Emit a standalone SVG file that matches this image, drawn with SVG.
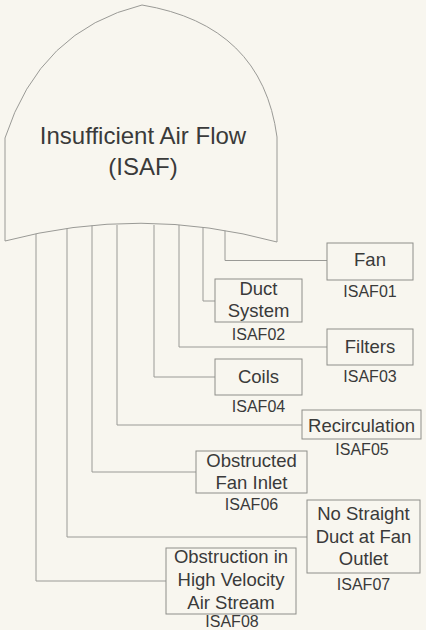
<svg xmlns="http://www.w3.org/2000/svg" width="426" height="630" viewBox="0 0 426 630">
<style>
.bg{fill:#f8f6ef}
.ln{fill:none;stroke:#9a9a96;stroke-width:1}
.box{fill:#f8f6ef;stroke:#8e8e8a;stroke-width:1}
.shape{fill:#f8f6ef;stroke:#9a9a96;stroke-width:1}
text{font-family:"Liberation Sans",Arial,sans-serif;fill:#3a3a3a;text-anchor:middle}
.t{font-size:18.5px}
.id{font-size:16px}
.title{font-size:24px}
</style>
<rect class="bg" x="0" y="0" width="426" height="630"/>
<g id="connectors">
<path class="ln" d="M225,225 V260.5 H327"/>
<path class="ln" d="M203,225 V301 H215"/>
<path class="ln" d="M179,225 V347 H327"/>
<path class="ln" d="M154,225 V377 H215"/>
<path class="ln" d="M117,225 V425 H302"/>
<path class="ln" d="M92,225 V472 H196"/>
<path class="ln" d="M67,225 V537 H307"/>
<path class="ln" d="M36,225 V581 H166"/>
</g>
<g id="ISAF">
<path class="shape" d="M5,241 V138 Q40,30 142,5 Q262,25 277,137 V242 Q141,205 5,241 Z"/>
<text class="title" x="143" y="143.5">Insufficient Air Flow</text>
<text class="title" x="143" y="174.5">(ISAF)</text>
</g>
<g id="ISAF01">
<rect class="box" x="327" y="243" width="86" height="37"/>
<text class="t" x="370" y="266">Fan</text>
<text class="id" x="370" y="297">ISAF01</text>
</g>
<g id="ISAF02">
<rect class="box" x="215" y="279" width="87" height="43"/>
<text class="t" x="258.5" y="295">Duct</text>
<text class="t" x="258.5" y="317">System</text>
<text class="id" x="258.5" y="340">ISAF02</text>
</g>
<g id="ISAF03">
<rect class="box" x="327" y="329" width="86" height="36"/>
<text class="t" x="370" y="353">Filters</text>
<text class="id" x="370" y="382">ISAF03</text>
</g>
<g id="ISAF04">
<rect class="box" x="215" y="359" width="87" height="36"/>
<text class="t" x="258.5" y="383">Coils</text>
<text class="id" x="258.5" y="412">ISAF04</text>
</g>
<g id="ISAF05">
<rect class="box" x="302" y="410" width="119" height="29"/>
<text class="t" x="361.5" y="432">Recirculation</text>
<text class="id" x="362" y="455">ISAF05</text>
</g>
<g id="ISAF06">
<rect class="box" x="196" y="451" width="111" height="42"/>
<text class="t" x="251.5" y="467">Obstructed</text>
<text class="t" x="251.5" y="489">Fan Inlet</text>
<text class="id" x="251.5" y="510">ISAF06</text>
</g>
<g id="ISAF07">
<rect class="box" x="307" y="500" width="113" height="73"/>
<text class="t" x="363.5" y="520">No Straight</text>
<text class="t" x="363.5" y="543">Duct at Fan</text>
<text class="t" x="363.5" y="565">Outlet</text>
<text class="id" x="363.5" y="590">ISAF07</text>
</g>
<g id="ISAF08">
<rect class="box" x="166" y="548" width="130" height="66"/>
<text class="t" x="231" y="563">Obstruction in</text>
<text class="t" x="231" y="586">High Velocity</text>
<text class="t" x="231" y="609">Air Stream</text>
<text class="id" x="232" y="627">ISAF08</text>
</g>
</svg>
